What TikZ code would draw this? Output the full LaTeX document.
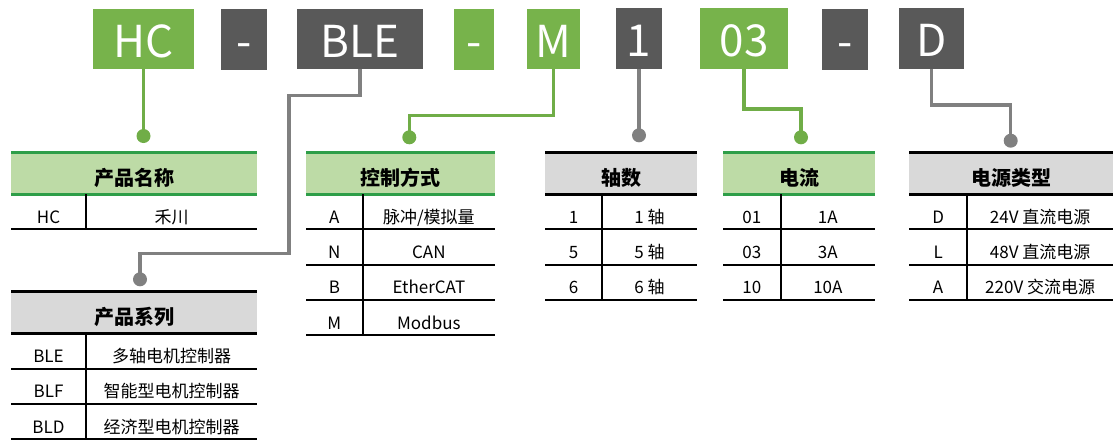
\documentclass[tikz,border=0pt]{standalone}
\usepackage{fontspec}
\setmainfont{Noto Sans CJK SC}
\definecolor{boxgreen}{HTML}{77B34B}
\definecolor{boxdark}{HTML}{595959}
\definecolor{linegreen}{HTML}{70AD47}
\definecolor{linegray}{HTML}{808080}
\definecolor{rulegreen}{HTML}{2E9E48}
\definecolor{fillgreen}{HTML}{BDDBA6}
\definecolor{fillgray}{HTML}{D9D9D9}
\tikzset{
  codebox/.style={inner sep=0pt, text=white, text height=36pt, text depth=0pt,
    font=\fontsize{44}{44}\selectfont},
  gbox/.style={codebox, fill=boxgreen},
  dbox/.style={codebox, fill=boxdark},
  gline/.style={draw=linegreen, line width=3.3pt},
  dline/.style={draw=linegray, line width=3.3pt},
  gdot/.style={circle, fill=linegreen, inner sep=0pt, minimum size=14pt},
  ddot/.style={circle, fill=linegray, inner sep=0pt, minimum size=14pt},
  greenhd/.style={fill=fillgreen},
  grayhd/.style={fill=fillgray},
  greenrule/.style={draw=rulegreen, line width=3pt},
  grayrule/.style={draw=black, line width=3pt},
  rowrule/.style={draw=black, line width=2pt},
  hdtext/.style={inner sep=0pt, anchor=base, font=\fontsize{20}{20}\selectfont\bfseries},
  celltext/.style={inner sep=0pt, anchor=base, font=\fontsize{17}{17}\selectfont},
}
\newcommand\codetab[8]{%
  \fill[#6hd] (#2,#5) rectangle (#4,{#5+41.5});
  \draw[#6rule] (#2,#5) -- (#4,#5);
  \draw[#6rule] (#2,{#5+41.5}) -- (#4,{#5+41.5});
  \node[hdtext] (#1-h) at ({(#2+#4)/2},{#5+41.5-9}) {#7};
  \foreach \l/\r [count=\i] in {#8} {
    \draw[rowrule] (#2,{#5+41.5+35.3*\i}) -- (#4,{#5+41.5+35.3*\i});
    \node[celltext] (#1-l\i) at ({(#2+#3)/2},{#5+41.5+35.3*\i-6}) {\l};
    \node[celltext] (#1-r\i) at ({(#3+#4)/2},{#5+41.5+35.3*\i-6}) {\r};
    \xdef\lastrow{\i}
  }
  \draw[rowrule] (#3,{#5+41.5}) -- (#3,{#5+41.5+35.3*\lastrow});
}
\begin{document}
\begin{tikzpicture}[x=1pt,y=-1pt]
\useasboundingbox (0,0) rectangle (1113,440);
% code boxes
\node[gbox, minimum width=101pt, minimum height=60pt] (hc) at (143.5,39) {HC};
\node[dbox, minimum width=46pt, minimum height=61pt] (dash1) at (244,39.5) {-};
\node[dbox, minimum width=126pt, minimum height=60pt] (ble) at (360,39) {BLE};
\node[gbox, minimum width=40pt, minimum height=61pt] (dash2) at (474,39.5) {-};
\node[gbox, minimum width=53pt, minimum height=60pt] (m) at (553.5,39) {M};
\node[dbox, minimum width=46pt, minimum height=61pt] (one) at (639,38.5) {1};
\node[gbox, minimum width=88pt, minimum height=61pt] (o3) at (744,38.5) {03};
\node[dbox, minimum width=46pt, minimum height=61pt] (dash3) at (845,39.5) {-};
\node[dbox, minimum width=65pt, minimum height=61pt] (d) at (931.5,38.5) {D};
% dots
\node[gdot] (hcdot) at (143.5,136) {};
\node[ddot] (bledot) at (140,279.3) {};
\node[gdot] (mdot) at (409.3,137.3) {};
\node[ddot] (onedot) at (639,135.3) {};
\node[gdot] (o3dot) at (801,137.3) {};
\node[ddot] (ddot) at (1010.7,140.7) {};
\coordinate (bleA) at (289,95.7);
\coordinate (bleB) at (289,253.3);
\coordinate (mA) at (409.3,115.7);
\coordinate (o3A) at (801,109);
\coordinate (dA) at (1010.7,105);
% connectors
\draw[gline] (hc.south) -- (hcdot.center);
\draw[dline] (ble.south) |- (bleA) -- (bleB) -| (bledot.center);
\draw[gline] (m.south) |- (mA) -- (mdot.center);
\draw[dline] (one.south) -- (onedot.center);
\draw[gline] (o3.south) |- (o3A) -- (o3dot.center);
\draw[dline] (d.south) |- (dA) -- (ddot.center);
% tables
\codetab{t1}{11}{86}{257}{152.5}{green}{产品名称}{HC/禾川}
\codetab{t2}{11}{86}{257}{291.7}{gray}{产品系列}{BLE/多轴电机控制器, BLF/智能型电机控制器, BLD/经济型电机控制器}
\codetab{t3}{306}{362.7}{495}{152.5}{green}{控制方式}{A/{脉冲/模拟量}, N/CAN, B/EtherCAT, M/Modbus}
\codetab{t4}{545}{602}{697}{152.5}{gray}{轴数}{1/1 轴, 5/5 轴, 6/6 轴}
\codetab{t5}{723}{780.7}{875}{152.5}{green}{电流}{01/1A, 03/3A, 10/10A}
\codetab{t6}{909}{967.3}{1113}{152.5}{gray}{电源类型}{D/24V 直流电源, L/48V 直流电源, A/220V 交流电源}
\end{tikzpicture}
\end{document}
